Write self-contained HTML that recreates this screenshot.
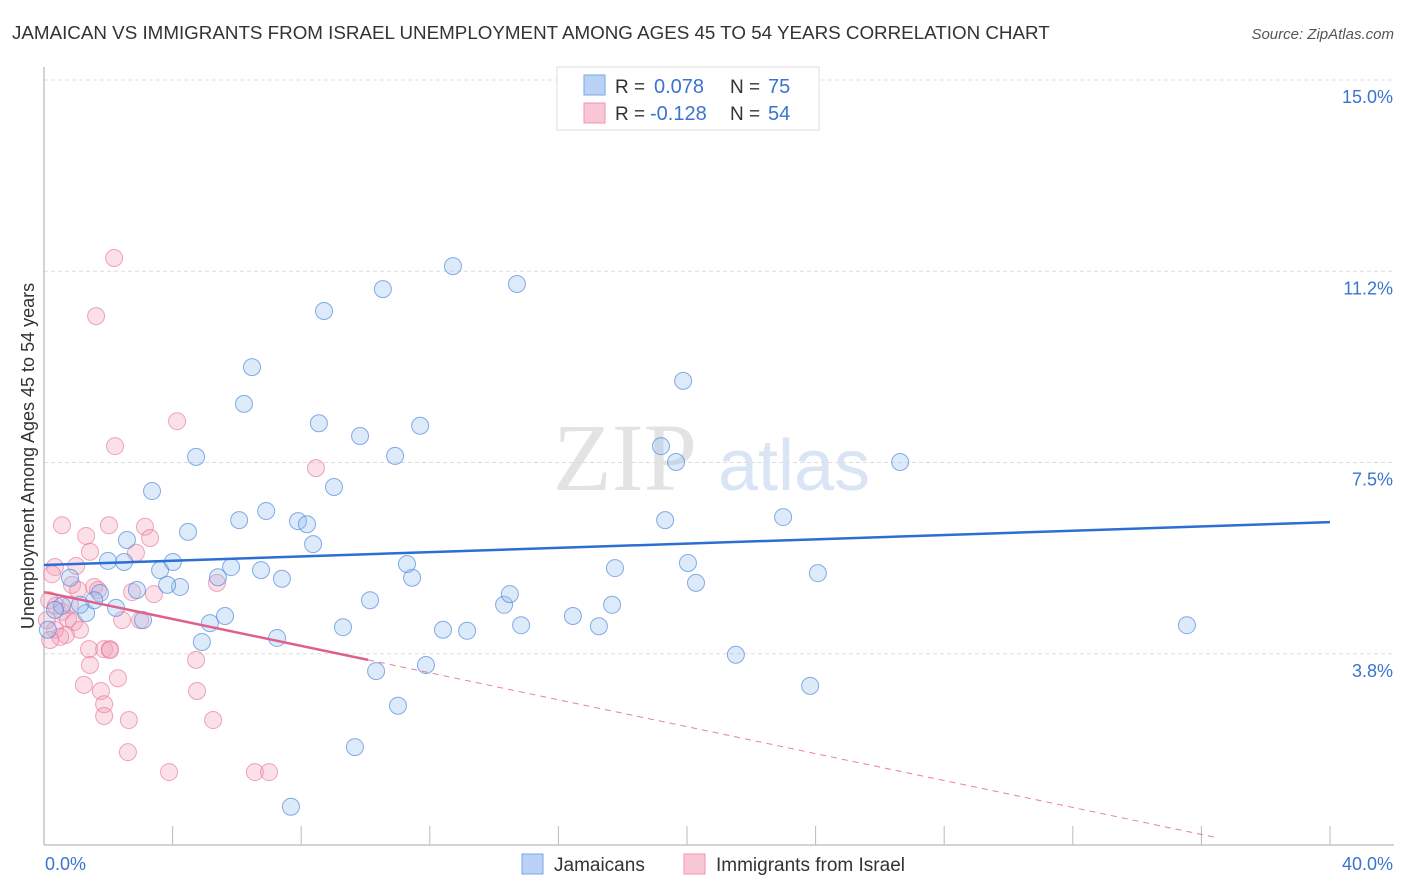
<!DOCTYPE html>
<html><head><meta charset="utf-8"><style>
body{margin:0;background:#fff;width:1406px;height:892px;overflow:hidden;font-family:"Liberation Sans",sans-serif}
</style></head><body>
<svg id="chart" width="1406" height="892" xmlns="http://www.w3.org/2000/svg" style="position:absolute;left:0;top:0">
<text x="12" y="39" font-size="18.8" fill="#333">JAMAICAN VS IMMIGRANTS FROM ISRAEL UNEMPLOYMENT AMONG AGES 45 TO 54 YEARS CORRELATION CHART</text>
<text x="1394" y="39" font-size="15" fill="#555" font-style="italic" text-anchor="end">Source: ZipAtlas.com</text>
<g>
<text x="553" y="490" font-size="96" fill="#d8d8d8" font-family="Liberation Serif,serif" opacity="0.7">ZIP</text>
<text x="718" y="490" font-size="72" fill="#c9daf2" opacity="0.7">atlas</text>
</g>
<g id="grid"></g>
<g id="axes"></g>
<g id="points"></g>
<g id="trends"></g>
<text transform="translate(34,456) rotate(-90)" font-size="18" fill="#333" text-anchor="middle">Unemployment Among Ages 45 to 54 years</text>
<g>
<rect x="557" y="67" width="262" height="63" fill="#fff" stroke="#ddd"/>
<rect x="584" y="75" width="21" height="20" fill="#b9d2f5" stroke="#7aa6e8"/>
<rect x="584" y="103" width="21" height="20" fill="#f8c6d4" stroke="#ee95ae"/>
<text x="615" y="93" font-size="19" fill="#333">R = </text><text x="654" y="93" font-size="20" fill="#3a74d0">0.078</text>
<text x="730" y="93" font-size="19" fill="#333">N = </text><text x="768" y="93" font-size="20" fill="#3a74d0">75</text>
<text x="615" y="120" font-size="19" fill="#333">R = </text><text x="650" y="120" font-size="20" fill="#3a74d0">-0.128</text>
<text x="730" y="120" font-size="19" fill="#333">N = </text><text x="768" y="120" font-size="20" fill="#3a74d0">54</text>
</g>
<g>
<rect x="522" y="854" width="21" height="20" fill="#b9d2f5" stroke="#7aa6e8"/>
<text x="554" y="871" font-size="19" fill="#333">Jamaicans</text></g>
<g>
<rect x="684" y="854" width="21" height="20" fill="#f8c6d4" stroke="#ee95ae"/>
<text x="716" y="871" font-size="19" fill="#333">Immigrants from Israel</text></g>
</svg>
<script>
const yTicks=[15,11.25,7.5,3.75];
const yTickLabels=["15.0%","11.2%","7.5%","3.8%"];
const xTicks=[0,4,8,12,16,20,24,28,32,36,40];
const blueX=[7.68,9.67,11.01,10.33,11.88,21.52,23.83,7.25,4.91,5.16,5.63,9.30,12.41,13.16,14.84,16.45,17.26,35.55,14.31,14.49,17.67,10.14,11.45,11.29,17.76,20.28,20.03,24.07,7.40,6.75,5.82,5.41,4.23,3.83,3.61,4.01,2.89,3.08,2.24,1.74,1.31,1.12,0.81,0.56,0.34,0.12,1.99,2.49,2.58,4.48,6.07,6.91,7.90,8.18,8.37,3.36,4.73,9.02,9.83,10.92,11.70,8.55,6.22,6.47,8.71,10.54,12.72,14.71,19.88,19.19,19.66,19.32,22.99,26.63,1.56];
const blueY=[0.75,1.92,2.73,3.41,3.53,3.73,3.12,4.06,3.98,4.35,4.49,4.27,4.22,4.20,4.31,4.49,4.29,4.31,4.71,4.92,4.71,4.80,5.24,5.51,5.43,5.14,5.53,5.33,5.22,5.39,5.45,5.25,5.06,5.10,5.39,5.55,5.00,4.41,4.65,4.94,4.55,4.71,5.24,4.69,4.61,4.22,5.57,5.55,5.98,6.14,6.37,6.55,6.35,6.29,5.90,6.94,7.61,7.02,8.02,7.63,8.22,8.27,8.65,9.37,10.47,10.90,11.35,11.00,9.10,7.82,7.51,6.37,6.43,7.51,4.80];
const pinkX=[2.18,1.62,4.14,2.21,8.46,0.56,2.02,3.14,1.31,3.30,1.43,2.86,0.34,1.00,0.25,0.87,1.56,1.68,1.06,2.74,3.42,5.38,0.16,0.37,0.56,0.75,0.93,1.12,0.34,0.68,0.50,0.19,2.99,2.43,1.40,1.87,2.05,4.73,1.43,2.30,1.24,1.77,4.76,1.87,1.87,2.64,5.26,2.61,3.89,6.56,7.00,2.05,0.09,0.81];
const pinkY=[11.51,10.37,8.31,7.82,7.39,6.27,6.27,6.24,6.06,6.02,5.75,5.73,5.45,5.47,5.31,5.10,5.06,5.00,5.00,4.96,4.92,5.14,4.80,4.69,4.57,4.43,4.37,4.22,4.22,4.12,4.08,4.02,4.41,4.41,3.84,3.84,3.84,3.63,3.53,3.27,3.14,3.02,3.02,2.76,2.53,2.45,2.45,1.82,1.43,1.43,1.43,3.82,4.41,4.71];
const blueTrend=[5.49,6.33];
const pinkTrend=[4.96,-0.132];
const NS="http://www.w3.org/2000/svg";
const X=v=>44+v*32.15, Y=v=>845-v*51;
function mk(t,a,p){const e=document.createElementNS(NS,t);for(const k in a)e.setAttribute(k,a[k]);p.appendChild(e);return e;}
const grid=document.getElementById('grid'),axes=document.getElementById('axes'),pts=document.getElementById('points'),tr=document.getElementById('trends');
yTicks.forEach((v,i)=>{
 const l=mk('line',{x1:44,x2:1394,y1:Y(v),y2:Y(v),stroke:'#ddd','stroke-dasharray':'4,3'},grid);
 
 
 const t=mk('text',{x:1393,y:Y(v)+23,'font-size':18,fill:'#3a74d0','text-anchor':'end'},grid);
 t.textContent=yTickLabels[i];
 
 
});
const xa=mk('line',{x1:44,x2:1394,y1:845,y2:845,stroke:'#aaa'},axes);


const ya=mk('line',{x1:44,x2:44,y1:67,y2:845,stroke:'#aaa'},axes);


xTicks.forEach(v=>{if(v===0)return;
 const t=mk('line',{x1:X(v),x2:X(v),y1:826,y2:845,stroke:'#bbb'},axes);
 
 
});
const xl0=mk('text',{x:45,y:870,'font-size':18,fill:'#3a74d0'},axes);xl0.textContent='0.0%';


const xl1=mk('text',{x:1393,y:870,'font-size':18,fill:'#3a74d0','text-anchor':'end'},axes);xl1.textContent='40.0%';


pinkX.forEach((x,i)=>{
 const c=mk('circle',{cx:X(x),cy:Y(pinkY[i]),r:8.5,fill:'rgba(244,160,185,0.33)',stroke:'rgba(232,120,155,0.65)','stroke-width':1},pts);
 
 
});
blueX.forEach((x,i)=>{
 const c=mk('circle',{cx:X(x),cy:Y(blueY[i]),r:8.5,fill:'rgba(150,190,240,0.33)',stroke:'rgba(70,130,220,0.65)','stroke-width':1},pts);
 
 
});
const bl=mk('line',{x1:X(0),y1:Y(blueTrend[0]),x2:X(40),y2:Y(blueTrend[1]),stroke:'#2a6fd4','stroke-width':2.5},tr);


const pe=10.08, pz=36.5;
const ps=mk('line',{x1:X(0),y1:Y(pinkTrend[0]),x2:X(pe),y2:Y(pinkTrend[0]+pinkTrend[1]*pe),stroke:'#e0608a','stroke-width':2.5},tr);


const pd=mk('line',{x1:X(pe),y1:Y(pinkTrend[0]+pinkTrend[1]*pe),x2:X(pz),y2:Y(pinkTrend[0]+pinkTrend[1]*pz),stroke:'#e8809f','stroke-width':1,'stroke-dasharray':'6,5'},tr);


</script>
</body></html>
